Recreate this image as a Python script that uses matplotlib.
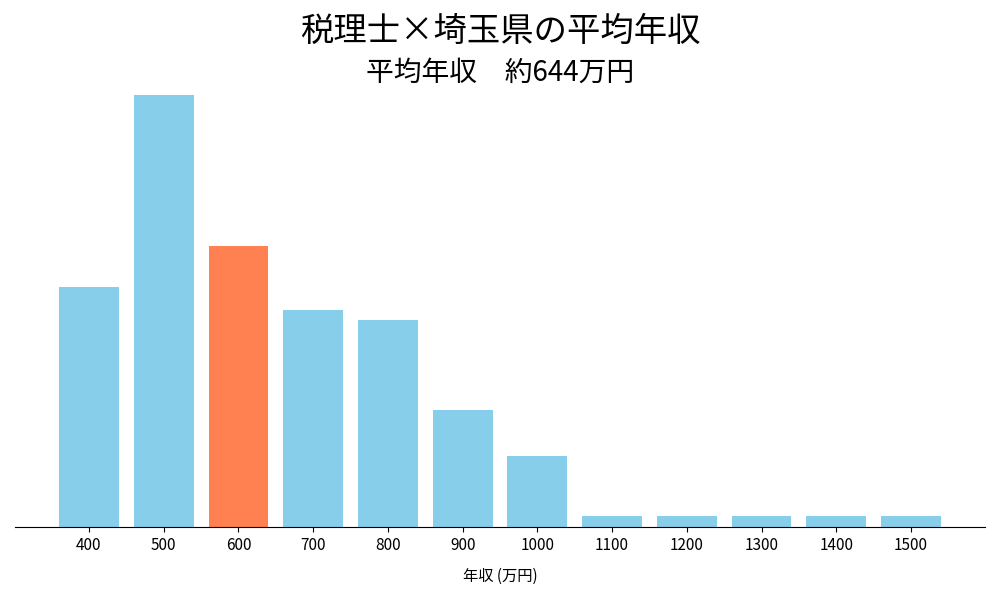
import matplotlib
matplotlib.use("Agg")
import matplotlib.pyplot as plt

plt.rcParams['font.family'] = ['Noto Sans CJK JP', 'DejaVu Sans']

categories = ["400","500","600","700","800","900","1000","1100","1200","1300","1400","1500"]
values = [240, 432, 281, 217, 207, 117, 71, 11, 11, 11, 11, 11]
highlight = "600"

colors = ["#FF8050" if c == highlight else "#87CEEB" for c in categories]

fig = plt.figure(figsize=(10, 6), dpi=100)
ax = fig.add_axes([0.015, 0.122, 0.97, 0.756])
x = list(range(len(categories)))
ax.bar(x, values, width=0.8, color=colors)
ax.set_xticks(x)
ax.set_xticklabels(categories, fontsize=11)
ax.set_xlim(-0.99, 11.99)
ax.set_ylim(0, max(values) * 1.05)
ax.set_yticks([])
for s in ["left", "right", "top"]:
    ax.spines[s].set_visible(False)
ax.set_xlabel("年収 (万円)", fontsize=11, labelpad=10)
fig.text(0.5, 0.947, "税理士×埼玉県の平均年収", ha="center", va="center", fontsize=24)
fig.text(0.5, 0.878, "平均年収　約644万円", ha="center", va="center", fontsize=20)
fig.savefig("out.png")
